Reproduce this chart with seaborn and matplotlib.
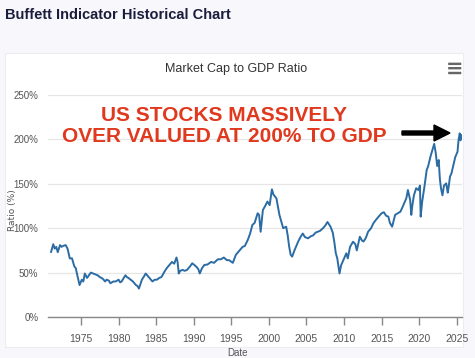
import pandas as pd
import matplotlib.pyplot as plt
import matplotlib.patches as mpatches
import seaborn as sns

# ----------------------------
# Data (year, market cap / GDP in %)
# ----------------------------
years = [
    1971.0, 1971.3, 1971.5, 1971.7, 1971.9, 1972.2, 1972.4, 1972.6, 1972.95, 1973.2,
    1973.5, 1973.8, 1974.1, 1974.3, 1974.5, 1974.8, 1975.1, 1975.3, 1975.5, 1975.8,
    1976.3, 1976.6, 1976.9, 1977.2, 1977.5, 1977.9, 1978.2, 1978.4, 1978.7, 1978.9,
    1979.3, 1979.6, 1980.0, 1980.2, 1980.4, 1980.9, 1981.1, 1981.3, 1981.6, 1981.9,
    1982.3, 1982.5, 1982.7, 1983.1, 1983.4, 1983.6, 1983.9, 1984.1, 1984.5, 1984.8,
    1985.1, 1985.4, 1985.7, 1986.1, 1986.4, 1986.7, 1987.1, 1987.4, 1987.7, 1987.85,
    1988.0, 1988.2, 1988.5, 1988.8, 1989.1, 1989.5, 1989.8, 1990.3, 1990.6, 1990.8,
    1991.1, 1991.4, 1991.8, 1992.3, 1992.7, 1993.2, 1993.6, 1994.0, 1994.4, 1994.7,
    1995.2, 1995.6, 1996.0, 1996.5, 1996.8, 1997.2, 1997.5, 1997.8, 1998.1, 1998.5,
    1998.7, 1998.9, 1999.2, 1999.5, 1999.8, 2000.1, 2000.4, 2000.6, 2001.0, 2001.2,
    2001.4, 2001.7, 2001.9, 2002.3, 2002.5, 2002.7, 2002.9, 2003.1, 2003.4, 2003.9,
    2004.2, 2004.5, 2004.8, 2005.2, 2005.6, 2005.9, 2006.2, 2006.5, 2006.8, 2007.2,
    2007.5, 2007.8, 2008.2, 2008.5, 2008.7, 2008.9, 2009.1, 2009.4, 2009.6, 2009.8,
    2010.1, 2010.3, 2010.5, 2010.8, 2011.2, 2011.5, 2011.7, 2012.1, 2012.4, 2012.6,
    2012.9, 2013.2, 2013.6, 2013.9, 2014.3, 2014.6, 2015.0, 2015.3, 2015.6, 2015.9,
    2016.1, 2016.4, 2016.8, 2017.2, 2017.5, 2017.8, 2018.1, 2018.3, 2018.5, 2018.8,
    2018.95, 2019.1, 2019.3, 2019.6, 2019.9, 2020.1, 2020.2, 2020.4, 2020.7, 2021.0,
    2021.2, 2021.5, 2021.9, 2022.0, 2022.2, 2022.4, 2022.6, 2022.75, 2022.9, 2023.1,
    2023.3, 2023.6, 2023.8, 2023.9, 2024.1, 2024.3, 2024.6, 2024.8, 2025.1, 2025.25,
    2025.4, 2025.5, 2025.6,
]
ratio = [
    73, 82, 77, 79, 73, 81, 79, 80, 81, 77,
    66, 66, 57, 55, 47, 36, 42, 40, 49, 44,
    50, 49, 48, 47, 45, 43, 40, 42, 41, 38,
    40, 40, 42, 39, 40, 47, 45, 44, 42, 40,
    36, 35, 32, 42, 46, 49, 46, 44, 40, 42,
    42, 44, 45, 51, 55, 58, 62, 60, 67, 62,
    49, 52, 53, 52, 53, 57, 60.5, 57, 54, 49,
    55, 58.6, 59, 62, 61, 65, 65, 67, 64, 64,
    61, 70, 74, 79, 80, 87, 94, 103.6, 106, 116.8,
    115, 96, 120.5, 125, 130, 126, 143.8, 138, 133.7, 124,
    115, 106, 100, 101.7, 92, 79, 70, 68, 75, 85,
    90, 94, 90, 88.6, 91, 92, 95, 96, 97, 100,
    103, 107, 101.7, 95, 84.8, 72, 66, 49, 58, 62,
    68, 71.7, 66, 79, 84.8, 82, 75, 90.4, 86, 85,
    89, 96, 100, 105.5, 110, 113, 116.8, 118, 114, 113,
    106, 101.7, 115, 117, 118.6, 124, 130, 134, 143, 131.8,
    115, 126, 137, 145, 143, 148, 113, 130, 146.7, 165.5,
    170, 180.5, 191.8, 195, 185, 170, 176.8, 156, 145, 137,
    148, 150.5, 140, 145, 158, 161.8, 173, 180, 186, 200,
    206.8, 199, 205,
]
y_ticks = [0, 50, 100, 150, 200, 250]
x_ticks = [1975, 1980, 1985, 1990, 1995, 2000, 2005, 2010, 2015, 2020, 2025]

df = pd.DataFrame({"year": years, "ratio": ratio})

# ----------------------------
# Figure
# ----------------------------
sns.set_style("white")
plt.rcParams["font.family"] = ["Liberation Sans", "DejaVu Sans"]

W, H = 475, 358
fig = plt.figure(figsize=(4.75, 3.58), dpi=100, facecolor="#f7f7fc")

# white chart panel (drawn behind the axes)
fig.patches.append(mpatches.Rectangle((5 / W, 1 - 347 / H), 458 / W, 294 / H,
                                      transform=fig.transFigure, facecolor="white",
                                      edgecolor="#ececf2", lw=0.8, zorder=-5))

ax = fig.add_axes([48 / W, 1 - 317 / H, 414 / W, 222 / H])
ax.set_facecolor("none")
ax.set_zorder(2)

sns.lineplot(x="year", y="ratio", data=df, ax=ax, color="#2c6ca4", linewidth=1.4)

ax.set_xlim(1970.6, 2025.7)
ax.set_ylim(0, 250)
ax.set_yticks(y_ticks)
ax.set_yticklabels([f"{v}%" for v in y_ticks])
ax.set_xticks(x_ticks)
ax.set_xticklabels([str(v) for v in x_ticks])
ax.grid(axis="y", color="#e6e6e6", lw=0.9)
ax.set_axisbelow(True)
for side in ["top", "right", "left"]:
    ax.spines[side].set_visible(False)
ax.spines["bottom"].set_color("#888888")
ax.spines["bottom"].set_linewidth(1.0)
ax.tick_params(axis="x", length=6, width=1, color="#888888", labelsize=7.5,
               labelcolor="#555555", pad=6, direction="out", bottom=True)
ax.tick_params(axis="y", length=0, labelsize=7, labelcolor="#555555", pad=7)
ax.set_xlabel("")
ax.set_ylabel("")

# titles and axis labels
fig.text(5 / W, 1 - 15 / H, "Buffett Indicator Historical Chart", fontsize=10.5,
         fontweight="bold", color="#1c1c3c", ha="left", va="center")
fig.text(236 / W, 1 - 69 / H, "Market Cap to GDP Ratio", fontsize=9,
         color="#333333", ha="center", va="center")
fig.text(455 / W, 1 - 69 / H, "\u2261", fontsize=15, color="#666666",
         ha="center", va="center", family=["DejaVu Sans"], fontweight="bold")
fig.text(12 / W, 1 - 210 / H, "Ratio (%)", fontsize=6.5, color="#555555",
         ha="center", va="center", rotation=90, family=["DejaVu Sans"])
fig.text(237 / W, 1 - 353 / H, "Date", fontsize=7, color="#555555",
         ha="center", va="center")

# red annotation and arrow
fig.text(224 / W, 1 - 126 / H, "US STOCKS MASSIVELY\nOVER VALUED AT 200% TO GDP",
         fontsize=15, fontweight="bold", color="#e0391d", ha="center", va="center",
         linespacing=1.15, zorder=5)
fig.patches.append(mpatches.FancyArrow(402 / W, 1 - 133 / H, 48 / W, 0,
                                       width=4 / H, head_width=16 / H,
                                       head_length=16 / W, length_includes_head=True,
                                       transform=fig.transFigure, color="black",
                                       zorder=5))

fig.savefig("out.png", dpi=100, facecolor=fig.get_facecolor())
